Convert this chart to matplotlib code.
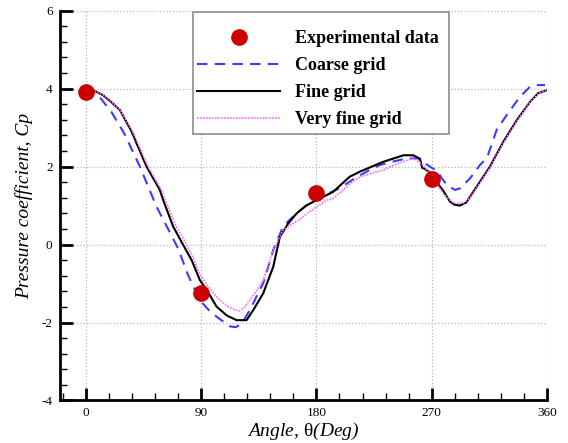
import matplotlib.pyplot as plt
from matplotlib.ticker import MultipleLocator
from matplotlib.patches import Rectangle

plt.rcParams['font.family'] = ['Liberation Serif', 'DejaVu Serif']
plt.rcParams['mathtext.fontset'] = 'custom'
plt.rcParams['mathtext.rm'] = 'Liberation Serif'
plt.rcParams['axes.unicode_minus'] = False

# experimental points
exp_angle = [0, 90, 180, 270]
exp_cp = [3.9, -1.25, 1.32, 1.67]

# coarse grid
coarse_angle = [0, 8.4, 20, 30, 42.2, 55.2, 65, 72, 80, 89, 95, 102, 112.5, 117,
                120.3, 124, 128.1, 133, 138.5, 146.3, 152.8, 158, 164.6, 172, 180,
                190, 198.4, 210, 219.2, 229.6, 240, 250.5, 259.5, 264.8, 273.9,
                281.7, 288.2, 292, 300, 307.7, 311, 314, 320.7, 328.5, 338.9,
                346.8, 352, 358.5]
coarse_cp = [4.02, 3.88, 3.4, 2.85, 2.0, 0.97, 0.35, -0.1, -0.8, -1.42, -1.65,
             -1.85, -2.1, -2.12, -2.06, -1.9, -1.68, -1.35, -0.99, -0.14, 0.37,
             0.6, 0.8, 1.0, 1.14, 1.32, 1.45, 1.7, 1.87, 2.04, 2.13, 2.21, 2.21,
             2.08, 1.89, 1.53, 1.4, 1.44, 1.7, 2.04, 2.15, 2.3, 2.94, 3.32, 3.79,
             4.05, 4.09, 4.09]

# fine grid
fine_angle = [0, 5, 13.5, 20, 26.6, 35.7, 47.4, 57.8, 60.4, 68.2, 75, 82.6, 89,
              95, 102, 110, 117.7, 125.5, 130.7, 134, 138.5, 146.3, 151.5, 158,
              164.6, 172, 180.2, 193, 206, 214, 232, 248, 255.6, 260.9, 262.5,
              265, 271.3, 275, 279, 284.3, 288, 292, 297, 305, 315.5, 326, 336.4,
              346.8, 353, 360]
fine_cp = [4.0, 3.97, 3.83, 3.65, 3.45, 2.9, 2.0, 1.4, 1.14, 0.46, 0.05, -0.4,
           -0.91, -1.2, -1.59, -1.82, -1.94, -1.94, -1.68, -1.5, -1.25, -0.57,
           0.2, 0.54, 0.8, 1.0, 1.14, 1.35, 1.74, 1.87, 2.12, 2.29, 2.29, 2.2,
           1.97, 1.93, 1.78, 1.55, 1.38, 1.1, 1.02, 1.0, 1.08, 1.48, 2.0, 2.64,
           3.19, 3.66, 3.88, 3.96]

# very fine grid
vfine_angle = [0, 5, 13.5, 20, 26.6, 36.5, 48.5, 59, 62, 70, 77, 84, 89, 95, 102,
               110, 116.4, 120, 124, 128.1, 133, 138.5, 146.3, 154, 160, 167, 175,
               188, 193, 206, 214, 232, 245, 255.6, 262, 270, 279, 287, 294.7, 300,
               306, 316, 326.5, 337, 347, 353.5, 360]
vfine_cp = [4.0, 3.97, 3.84, 3.66, 3.46, 2.9, 2.0, 1.4, 1.14, 0.5, 0.1, -0.35,
            -0.78, -1.05, -1.34, -1.58, -1.68, -1.7, -1.6, -1.42, -1.2, -0.91,
            -0.14, 0.37, 0.5, 0.65, 0.85, 1.14, 1.18, 1.55, 1.74, 1.91, 2.1, 2.21,
            2.08, 1.74, 1.31, 1.06, 1.06, 1.2, 1.5, 2.0, 2.64, 3.19, 3.66, 3.88,
            3.96]

fig = plt.figure(figsize=(5.68, 4.43), dpi=100)
ax = fig.add_axes([0.106, 0.096, 0.857, 0.88])

ax.plot(coarse_angle, coarse_cp, color='#3c3cff', lw=1.5, ls=(0, (5, 3.5)),
        label='Coarse grid', zorder=3)
ax.plot(fine_angle, fine_cp, color='black', lw=1.5, label='Fine grid', zorder=4)
ax.plot(vfine_angle, vfine_cp, color='#ff66ff', lw=1.2, ls=(0, (1, 0.8)),
        label='Very fine grid', zorder=5)
ax.plot(exp_angle, exp_cp, 'o', color='#cc0000', ms=11, ls='none',
        label='Experimental data', zorder=6)

ax.set_xlim(-20, 360)
ax.set_ylim(-4, 6)
ax.xaxis.set_major_locator(MultipleLocator(90))
ax.xaxis.set_minor_locator(MultipleLocator(18))
ax.yaxis.set_major_locator(MultipleLocator(2))
ax.yaxis.set_minor_locator(MultipleLocator(0.4))

ax.grid(True, which='major', color='#b8b8b8', ls=':', lw=0.9)
ax.set_axisbelow(True)

for s in ['top', 'right']:
    ax.spines[s].set_visible(False)
for s in ['left', 'bottom']:
    ax.spines[s].set_linewidth(2)

ax.tick_params(which='major', direction='in', length=9, width=2, labelsize=9.5)
ax.tick_params(axis='x', which='major', pad=5)
ax.tick_params(axis='y', which='major', pad=5.5)
ax.tick_params(which='minor', direction='in', length=5, width=1)
ax.tick_params(top=False, right=False, which='both')

ax.set_xlabel(r'Angle, $\mathrm{\theta}$(Deg)', fontsize=14, style='italic', labelpad=1)
ax.set_ylabel('Pressure coefficient, Cp', fontsize=14, style='italic', labelpad=6)

# legend frame drawn by hand (tecplot-like padding)
frame = Rectangle((0.3398, 0.6975), 0.4507, 0.2754, transform=fig.transFigure,
                  facecolor='white', edgecolor='#8c8c8c', lw=1.2, zorder=7)
ax.add_patch(frame)

handles, labels = ax.get_legend_handles_labels()
order = [3, 0, 1, 2]
leg = ax.legend([handles[i] for i in order], [labels[i] for i in order],
                loc='upper left', bbox_to_anchor=(0.347, 0.932),
                bbox_transform=fig.transFigure,
                prop={'weight': 'bold', 'size': 13}, frameon=False,
                handlelength=4.6, handletextpad=0.83, labelspacing=0.55,
                borderpad=0, borderaxespad=0)
leg.set_zorder(8)

fig.savefig('out.png', dpi=100)
